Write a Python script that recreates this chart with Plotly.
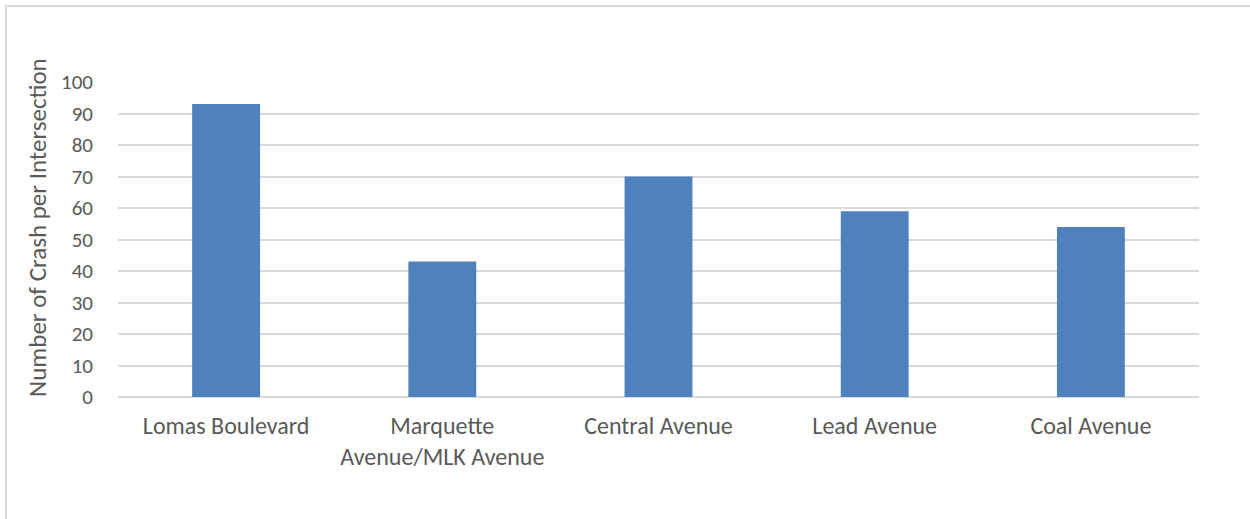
import plotly.graph_objects as go

categories = ["Lomas Boulevard", "Marquette<br>Avenue/MLK Avenue", "Central Avenue", "Lead Avenue", "Coal Avenue"]
crashes = [93, 43, 70, 59, 54]
y_ticks = [0, 10, 20, 30, 40, 50, 60, 70, 80, 90, 100]
y_title = "Number of Crash per Intersection"

FONT = "Carlito, Lato, Liberation Sans Narrow, sans-serif"
TXT = "#595959"
GRID = "#D9D9D9"

fig = go.Figure(go.Bar(x=categories, y=crashes, marker=dict(color="#4F81BD", line=dict(width=0)),
                       hoverinfo="x+y"))

W, H = 1250, 519
L, R, T, B = 118, 51, 82, 122
pw, ph = W - L - R, H - T - B

fig.update_layout(
    width=W, height=H,
    margin=dict(l=L, r=R, t=T, b=B),
    paper_bgcolor="white", plot_bgcolor="white",
    bargap=0.686,
    showlegend=False,
    font=dict(family=FONT, color=TXT, size=21),
    xaxis=dict(showgrid=False, showline=False, ticks="", tickfont=dict(size=24, color=TXT),
               ticklabelstandoff=12),
    yaxis=dict(range=[0, 100], tickvals=y_ticks, showgrid=True, gridcolor=GRID, gridwidth=2,
               zeroline=True, zerolinecolor=GRID, zerolinewidth=2, showline=False,
               tickfont=dict(size=21, color=TXT), ticklabelstandoff=24),
    annotations=[dict(text=y_title, xref="paper", yref="paper",
                      x=(37 - L) / pw, y=(H - B - 228) / ph, xanchor="center", yanchor="middle",
                      textangle=-90, showarrow=False, font=dict(size=25, color=TXT))],
    shapes=[dict(type="rect", xref="paper", yref="paper",
                 x0=(6 - L) / pw, x1=(W + 10 - L) / pw,
                 y0=(H - B - (H + 10)) / ph, y1=(H - B - 6) / ph,
                 line=dict(color=GRID, width=2), fillcolor="rgba(0,0,0,0)", layer="below")],
)

fig.write_html("out.html")
